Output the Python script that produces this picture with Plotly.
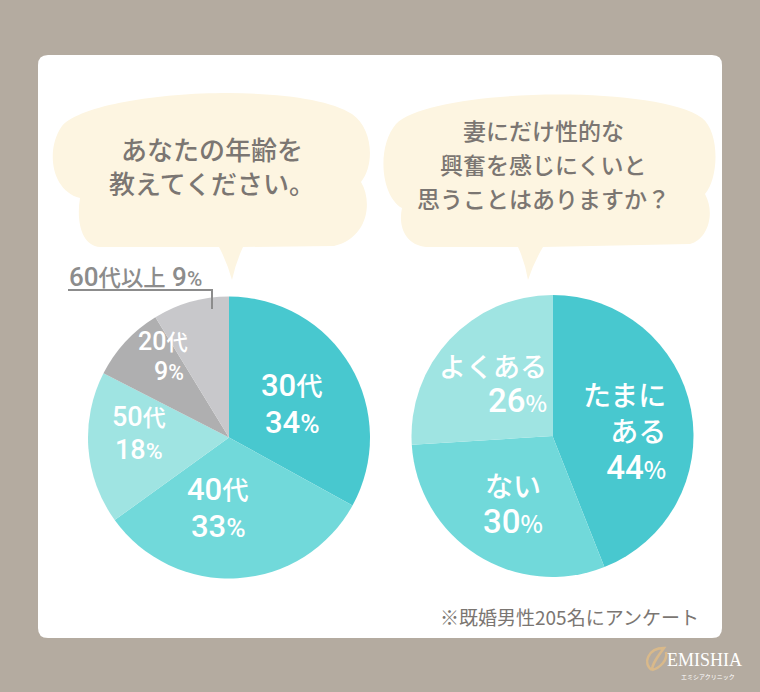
import plotly.graph_objects as go

# ---------------- data ----------------
age_labels = ["30代", "40代", "50代", "20代", "60代以上"]
age_values = [34, 33, 18, 9, 9]

ans_labels = ["たまにある", "ない", "よくある"]
ans_values = [44, 30, 26]

title_left = ["あなたの年齢を", "教えてください。"]
title_right = ["妻にだけ性的な", "興奮を感じにくいと", "思うことはありますか？"]
footnote = "※既婚男性205名にアンケート"
brand = "EMISHIA"
brand_sub = "エミシアクリニック"

# ---------------- style ----------------
W, H = 760, 692
BG = "#b4aba0"
CREAM = "#fdf5e1"
TXT = "#7b7672"
FONT = "Noto Sans CJK JP"
NUM = "Roboto, Noto Sans CJK JP"
age_colors = ["#48c8cf", "#71d9da", "#9fe4e2", "#afafb0", "#c8c8cb"]
ans_colors = ["#48c8cf", "#71d9da", "#9fe4e2"]


def dom(cx, cy, r):
    return dict(x=[(cx - r) / W, (cx + r) / W], y=[1 - (cy + r) / H, 1 - (cy - r) / H])


fig = go.Figure()

fig.add_trace(go.Pie(
    labels=age_labels, values=age_values, sort=False, direction="clockwise", rotation=0,
    marker=dict(colors=age_colors, line=dict(width=0)), textinfo="none", textposition="none",
    hoverinfo="skip", showlegend=False, domain=dom(229, 437.5, 141),
))
fig.add_trace(go.Pie(
    labels=ans_labels, values=ans_values, sort=False, direction="clockwise", rotation=0,
    marker=dict(colors=ans_colors, line=dict(width=0)), textinfo="none", textposition="none",
    hoverinfo="skip", showlegend=False, domain=dom(552.5, 436, 141),
))

# leader dot for 60代以上
fig.add_trace(go.Scatter(x=[212], y=[309], mode="markers",
                         marker=dict(size=6, color="#8c8c8c"), hoverinfo="skip",
                         showlegend=False))

shapes = []
# card
shapes.append(dict(type="path", layer="below", fillcolor="white", line=dict(width=0),
                   path="M 48,55 L 712,55 Q 722,55 722,65 L 722,628 Q 722,638 712,638 "
                        "L 48,638 Q 38,638 38,628 L 38,65 Q 38,55 48,55 Z"))
# left bubble
shapes.append(dict(type="path", layer="below", fillcolor=CREAM, line=dict(width=0),
                   path="M 62,126 C 95,90 300,80 352,114 C 373,128 375,165 361,182 "
                        "C 373,202 368,238 334,246 L 243,247 Q 236,262 232,280 "
                        "Q 227,262 219,247 L 100,247 C 82,246 76,222 80,198 "
                        "C 50,190 46,148 62,126 Z"))
# right bubble
shapes.append(dict(type="path", layer="below", fillcolor=CREAM, line=dict(width=0),
                   path="M 396,124 C 430,88 655,84 702,118 C 720,132 719,178 705,194 "
                        "C 716,214 707,240 690,244 L 543,247 Q 534,262 528,280 "
                        "Q 525,262 518,247 L 426,247 C 405,245 398,226 402,208 "
                        "C 380,195 377,146 396,124 Z"))
# leader line
shapes.append(dict(type="path", layer="above", line=dict(color="#8c8c8c", width=2),
                   path="M 68,290 L 212,290 L 212,309"))
# logo mark
shapes.append(dict(type="path", layer="above", line=dict(color="#d9b98a", width=2.5),
                   path="M 652,670 C 642,664 648,648 664,648 C 658,656 652,664 652,670 "
                        "M 652,670 C 660,668 668,660 666,652"))

ann = []
# titles
ann.append(dict(x=212, y=165, text="<br>".join(title_left),
                font=dict(size=26, color=TXT, family=FONT, weight=500)))
for i, t in enumerate(title_right):
    ann.append(dict(x=543, y=130 + 34 * i, text=t, font=dict(size=23, color=TXT, family=FONT, weight=500)))


def split_num(label):
    """'30代' -> ('30', '代')"""
    i = 0
    while i < len(label) and label[i].isdigit():
        i += 1
    return label[:i], label[i:]


# left pie labels: (x, y of line 1, y of line 2, font size)
left_pos = [(292, 385, 422, 31), (218, 489, 526, 31), (139, 417, 450, 27), (163, 341, 371, 25)]
for (x, y1, y2, s), lab, v in zip(left_pos, age_labels[:4], age_values[:4]):
    num, suf = split_num(lab)
    f = dict(color="white", family=NUM, size=s, weight=500)
    ann.append(dict(x=x, y=y1, text=f"{num}<span style='font-size:0.85em'>{suf}</span>", font=f))
    ann.append(dict(x=x + (6 if v < 10 else 0), y=y2,
                    text=f"{v}<span style='font-size:0.85em'>%</span>", font=f))

# outside label 60代以上
num, suf = split_num(age_labels[4])
ann.append(dict(x=67, y=277, xanchor="left",
                text=f"{num}<span style='font-size:0.86em'>{suf}</span> {age_values[4]}"
                     f"<span style='font-size:0.8em'>%</span>",
                font=dict(color="#8c8c8c", family=NUM, size=26, weight=500)))

# right pie labels
PCT = "<span style='font-size:0.85em'>%</span>"


def numspan(v, size):
    return f"<span style='font-family:Roboto;font-size:{size}px'>{v}</span>"


rb = dict(color="white", family=FONT, size=28, weight=500)
ann.append(dict(x=668, y=430, xanchor="right", align="right",
                text=f"{ans_labels[0][:3]}<br>{ans_labels[0][3:]}<br>"
                     f"{numspan(ans_values[0], 33)}{PCT}", font=rb))
ann.append(dict(x=513, y=503, text=f"{ans_labels[1]}<br>{numspan(ans_values[1], 33)}{PCT}", font=rb))
ann.append(dict(x=549, y=383, xanchor="right", align="right",
                text=f"{ans_labels[2]}<br>{numspan(ans_values[2], 33)}{PCT}",
                font=dict(color="white", family=FONT, size=27, weight=500)))

# footnote and brand
ann.append(dict(x=701, y=616, xanchor="right", text=footnote,
                font=dict(color=TXT, family=FONT, size=19)))
ann.append(dict(x=704, y=660, text=brand, font=dict(color="white", family="Liberation Serif", size=18)))
ann.append(dict(x=708, y=676, text=brand_sub, font=dict(color="white", family=FONT, size=6)))

for a in ann:
    a.setdefault("xanchor", "center")
    a.update(xref="x", yref="y", yanchor="middle", showarrow=False)

fig.update_layout(
    width=W, height=H, margin=dict(l=0, r=0, t=0, b=0),
    paper_bgcolor=BG, plot_bgcolor="rgba(0,0,0,0)",
    xaxis=dict(range=[0, W], visible=False, fixedrange=True),
    yaxis=dict(range=[H, 0], visible=False, fixedrange=True),
    shapes=shapes, annotations=ann, showlegend=False,
)

fig.write_html("out.html", config={"displayModeBar": False},
               post_script="document.body.style.margin='0';document.body.style.overflow='hidden';")
